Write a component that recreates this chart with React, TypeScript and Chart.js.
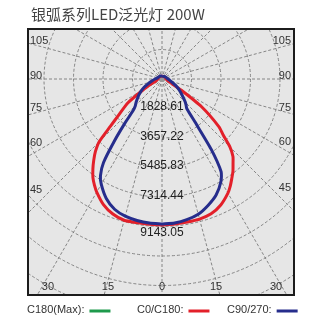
import React, { useEffect, useRef } from "react";
import { Chart, registerables } from "chart.js";

Chart.register(...registerables);

const TITLE = "银弧系列LED泛光灯 200W";
const RING_STEP = 1828.61;
const RING_LABELS = ["1828.61", "3657.22", "5485.83", "7314.44", "9143.05"];
const RING_COUNT = 9;
const SIDE_ANGLE_LABELS = [45, 60, 75, 90, 105];
const BOTTOM_ANGLE_LABELS = [0, 15, 30];
const SPOKE_STEP = 15;

// axis extent in cd (centre of the lamp at 0,0)
const X_MIN = -8306;
const X_MAX = 8182;
const Y_MIN = -13390;
const Y_MAX = 3100;

// gamma angles (deg from nadir)
const ANGLES = [0, 5, 10, 15, 20, 25, 30, 32.5, 35, 37.5, 40, 42.5, 45, 47.5, 50, 55, 60, 65, 70, 80, 90, 100, 120, 150, 180];
// intensities (cd)
const C0 = [9052, 9021, 9002, 8990, 8897, 8618, 8172, 7874, 7539, 7223, 6851, 6510, 5952, 5146, 4613, 2976, 1364, 682, 434, 310, 248, 248, 217, 186, 186];
const C180 = [9052, 9040, 9040, 9064, 8903, 8587, 8091, 7793, 7465, 7037, 6584, 6113, 5518, 4328, 3553, 2573, 1364, 744, 434, 310, 248, 248, 217, 186, 186];
const C90 = [8990, 8959, 8854, 8680, 8339, 7936, 7316, 6820, 5307, 3348, 2387, 2213, 2046, 1860, 1674, 1395, 1147, 930, 725, 496, 372, 310, 248, 186, 186];
const C270 = [8990, 8965, 8903, 8804, 8593, 8172, 7533, 7099, 6318, 4861, 3590, 2635, 2337, 2189, 2040, 1767, 1500, 1221, 961, 620, 434, 310, 248, 217, 186];

const LEGEND_LABELS = ["C180(Max):", "C0/C180:", "C90/270:"];
const LEGEND_COLORS = ["#1e9a4c", "#e3202a", "#262d8c"];

function loop(right: number[], left: number[]) {
  const pts: { x: number; y: number }[] = [];
  for (let i = ANGLES.length - 1; i >= 0; i--) {
    const t = (ANGLES[i] * Math.PI) / 180;
    pts.push({ x: right[i] * Math.sin(t), y: -right[i] * Math.cos(t) });
  }
  for (let i = 0; i < ANGLES.length; i++) {
    const t = (ANGLES[i] * Math.PI) / 180;
    pts.push({ x: -left[i] * Math.sin(t), y: -left[i] * Math.cos(t) });
  }
  return pts;
}

const polarPlugin = {
  id: "polarPlugin",
  beforeDatasetsDraw(chart: any) {
    const { ctx, chartArea: a, scales } = chart;
    const xs = scales.x, ys = scales.y;
    const cx = xs.getPixelForValue(0), cy = ys.getPixelForValue(0);
    const k = xs.getPixelForValue(RING_STEP) - cx;
    ctx.save();
    ctx.fillStyle = "#e6e6e6";
    ctx.fillRect(a.left, a.top, a.right - a.left, a.bottom - a.top);
    ctx.beginPath();
    ctx.rect(a.left, a.top, a.right - a.left, a.bottom - a.top);
    ctx.clip();
    ctx.strokeStyle = "#7a7a7a";
    ctx.lineWidth = 0.9;
    ctx.setLineDash([3, 2]);
    for (let i = 1; i <= RING_COUNT; i++) {
      ctx.beginPath();
      ctx.arc(cx, cy, i * k, 0, Math.PI * 2);
      ctx.stroke();
    }
    for (let d = 0; d < 360; d += SPOKE_STEP) {
      const t = (d * Math.PI) / 180;
      ctx.beginPath();
      ctx.moveTo(cx, cy);
      ctx.lineTo(cx + 800 * Math.sin(t), cy + 800 * Math.cos(t));
      ctx.stroke();
    }
    ctx.setLineDash([]);
    ctx.fillStyle = "#9a9a9a";
    ctx.beginPath();
    ctx.arc(cx, cy, 3, 0, Math.PI * 2);
    ctx.fill();
    ctx.restore();
  },
  afterDatasetsDraw(chart: any) {
    const { ctx, chartArea: a, scales } = chart;
    const xs = scales.x, ys = scales.y;
    const cx = xs.getPixelForValue(0), cy = ys.getPixelForValue(0);
    const k = xs.getPixelForValue(RING_STEP) - cx;
    ctx.save();
    // ring labels
    ctx.fillStyle = "#222";
    ctx.font = "12px 'Liberation Sans', Arial, sans-serif";
    ctx.textAlign = "center";
    ctx.textBaseline = "middle";
    RING_LABELS.forEach((lab, i) => {
      const last = i === RING_LABELS.length - 1;
      ctx.fillText(lab, cx, cy + (i + 1) * k + (last ? 6.5 : -1.5));
    });
    // angle labels
    ctx.fillStyle = "#333";
    ctx.font = "11px 'Liberation Sans', Arial, sans-serif";
    SIDE_ANGLE_LABELS.forEach((deg) => {
      const t = (deg * Math.PI) / 180;
      const c = Math.cos(t);
      const yl = cy + (cx - a.left - 8) * (c / Math.sin(t)) - (3 + 24 * c * c);
      const yr = cy + (a.right - 8 - cx) * (c / Math.sin(t)) - (3 + 24 * c * c);
      ctx.textAlign = "left";
      ctx.fillText(String(deg), a.left + 2, yl);
      ctx.textAlign = "right";
      ctx.fillText(String(deg), a.right - 3, yr);
    });
    ctx.textAlign = "center";
    BOTTOM_ANGLE_LABELS.forEach((deg) => {
      const t = (deg * Math.PI) / 180;
      const yb = a.bottom - 8;
      const dx = (yb - cy) * Math.tan(t) - 24 * Math.sin(t) * Math.sin(t);
      ctx.fillText(String(deg), cx - dx, yb);
      if (deg !== 0) ctx.fillText(String(deg), cx + dx, yb);
    });
    // frame
    ctx.strokeStyle = "#1c1c1c";
    ctx.lineWidth = 2;
    ctx.strokeRect(a.left, a.top, a.right - a.left, a.bottom - a.top);
    ctx.restore();
  },
  afterDraw(chart: any) {
    const { ctx } = chart;
    ctx.save();
    ctx.fillStyle = "#444";
    ctx.font = "15px 'Noto Sans CJK SC', sans-serif";
    ctx.textAlign = "left";
    ctx.textBaseline = "middle";
    ctx.fillText(TITLE, 31, 14);
    ctx.font = "11px 'Liberation Sans', Arial, sans-serif";
    ctx.fillStyle = "#333";
    const xs = [27, 137, 227];
    LEGEND_LABELS.forEach((lab, i) => {
      ctx.fillText(lab, xs[i], 310);
      const w = ctx.measureText(lab).width;
      ctx.strokeStyle = LEGEND_COLORS[i];
      ctx.lineWidth = 3;
      ctx.beginPath();
      ctx.moveTo(xs[i] + w + 5, 311);
      ctx.lineTo(xs[i] + w + 26, 311);
      ctx.stroke();
    });
    ctx.restore();
  },
};

export default function App() {
  const ref = useRef<HTMLCanvasElement>(null);
  useEffect(() => {
    if (!ref.current) return;
    const chart = new Chart(ref.current, {
      type: "scatter",
      data: {
        datasets: [
          {
            label: "C90/270",
            data: loop(C90, C270),
            showLine: true,
            borderColor: LEGEND_COLORS[2],
            borderWidth: 3,
            pointRadius: 0,
            tension: 0.2,
            fill: false,
          },
          {
            label: "C0/C180",
            data: loop(C0, C180),
            showLine: true,
            borderColor: LEGEND_COLORS[1],
            borderWidth: 3,
            pointRadius: 0,
            tension: 0.2,
            fill: false,
          },
        ],
      },
      options: {
        animation: false,
        responsive: false,
        maintainAspectRatio: false,
        layout: { padding: { left: 28, right: 26, top: 29, bottom: 25 } },
        scales: {
          x: { type: "linear", min: X_MIN, max: X_MAX, display: false },
          y: { type: "linear", min: Y_MIN, max: Y_MAX, display: false },
        },
        plugins: { legend: { display: false }, tooltip: { enabled: false }, title: { display: false } },
      },
      plugins: [polarPlugin],
    });
    return () => chart.destroy();
  }, []);
  return (
    <div style={{ position: "absolute", left: 0, top: 0, width: 320, height: 320, background: "#fff" }}>
      <canvas ref={ref} width={320} height={320} style={{ display: "block" }} />
    </div>
  );
}
